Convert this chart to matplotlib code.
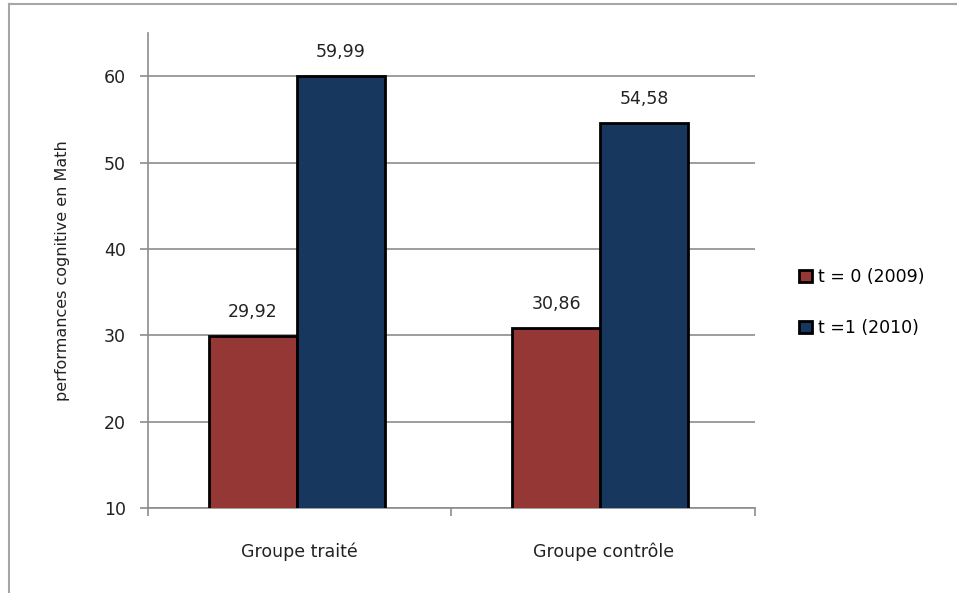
import matplotlib
matplotlib.use("Agg")
import matplotlib.pyplot as plt
from matplotlib.patches import Patch
from matplotlib.lines import Line2D
import numpy as np

# data
groups = ["Groupe traité", "Groupe contrôle"]
series_names = ["t = 0 (2009)", "t =1 (2010)"]
t0_values = [29.92, 30.86]
t1_values = [59.99, 54.58]
y_ticks = [10, 20, 30, 40, 50, 60]

red = "#953735"
blue = "#17375E"
grid_gray = "#8C8C8C"
text_col = "#222222"

plt.rcParams["font.family"] = "DejaVu Sans"

fig = plt.figure(figsize=(9.57, 5.93), dpi=100)
ax = fig.add_axes([0.1547, 0.1433, 0.634, 0.8011])

x = np.arange(len(groups))
w = 0.29
bars0 = ax.bar(x - w / 2 - 0.01, t0_values, w, bottom=0, color=red,
               edgecolor="black", linewidth=2, zorder=3)
bars1 = ax.bar(x + w / 2 - 0.01, t1_values, w, bottom=0, color=blue,
               edgecolor="black", linewidth=2, zorder=3)

for bars, vals in [(bars0, t0_values), (bars1, t1_values)]:
    for b, v in zip(bars, vals):
        ax.annotate(f"{v:.2f}".replace(".", ","),
                    (b.get_x() + b.get_width() / 2, v),
                    xytext=(0, 11), textcoords="offset points",
                    ha="center", va="bottom", fontsize=12.5, color=text_col)

ax.set_ylim(10, 65)
ax.set_xlim(-0.5, len(groups) - 0.5)
ax.set_yticks(y_ticks)
ax.set_yticklabels([str(t) for t in y_ticks], fontsize=12.5, color=text_col)
ax.yaxis.grid(True, color=grid_gray, linewidth=1.2, zorder=0)

# category ticks sit between groups, labels at centres
ax.set_xticks(np.arange(len(groups) + 1) - 0.5)
ax.set_xticklabels([])
ax.set_xticks(x, minor=True)
ax.set_xticklabels(groups, minor=True, fontsize=12.5, color=text_col)
ax.tick_params(axis="x", which="minor", length=0, pad=25)
ax.tick_params(axis="x", which="major", length=6, color=grid_gray, width=1.2)
ax.tick_params(axis="y", length=6, color=grid_gray, width=1.2, pad=10)

for side in ["top", "right"]:
    ax.spines[side].set_visible(False)
for side in ["left", "bottom"]:
    ax.spines[side].set_color(grid_gray)
    ax.spines[side].set_linewidth(1.2)

ax.set_ylabel("performances cognitive en Math", fontsize=11.5, color=text_col,
              labelpad=24)

handles = [Patch(facecolor=red, edgecolor="black", linewidth=2),
           Patch(facecolor=blue, edgecolor="black", linewidth=2)]
fig.legend(handles, series_names, loc="center left", bbox_to_anchor=(0.828, 0.49),
           frameon=False, fontsize=12.5, handlelength=0.75, handleheight=0.75,
           handletextpad=0.3, labelspacing=1.9, borderaxespad=0)

# chart area border (only left and top visible in the crop)
fig.add_artist(Line2D([0.0094, 0.0094], [0, 0.9933], transform=fig.transFigure,
                      color="#A6A6A6", linewidth=1.5))
fig.add_artist(Line2D([0.0094, 1.0], [0.9933, 0.9933], transform=fig.transFigure,
                      color="#A6A6A6", linewidth=1.5))

fig.savefig("out.png", dpi=100)
